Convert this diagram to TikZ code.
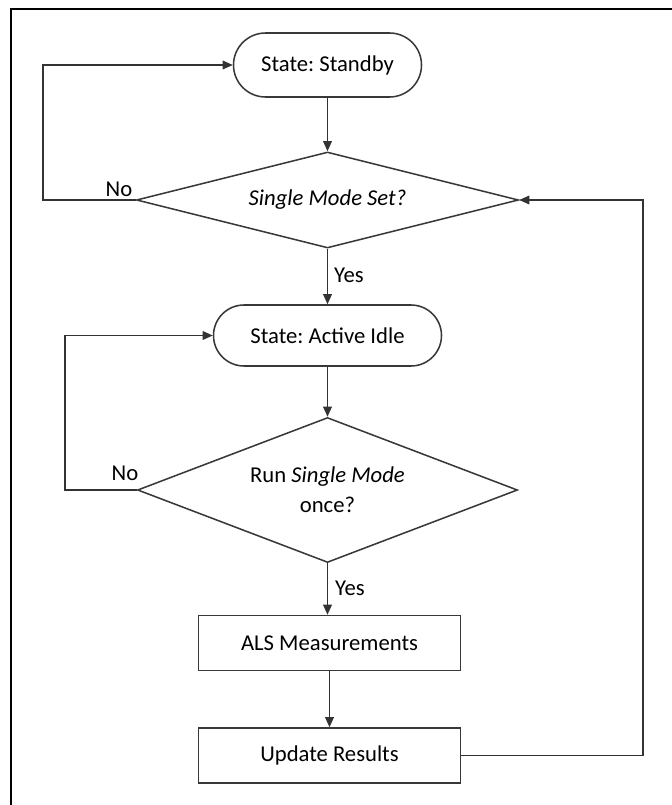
\documentclass[tikz,border=0pt]{standalone}
\usepackage{fontspec}
\setmainfont{Carlito}
\usetikzlibrary{shapes.geometric,shapes.misc,arrows.meta}
\frenchspacing
\begin{document}
\begin{tikzpicture}[x=0.75pt,y=-0.75pt,
  txt/.style={font=\fontsize{17}{22.5}\selectfont},
  shp/.style={txt,draw=black!78,line width=1.15pt,inner sep=0pt,align=center},
  term/.style={shp,rounded rectangle},
  proc/.style={shp,rectangle},
  dec/.style={shp,diamond,aspect=3},
  conn/.style={draw=black!80,line width=0.9pt,-{Triangle[length=7.5pt,width=6.5pt]}},
  lbl/.style={txt,inner sep=0pt}]
\useasboundingbox (0,0) rectangle (671,805);
\draw[line width=1.8pt] (11,806) -- (11,9) -- (672,9);

\node[term,minimum width=141pt,minimum height=48pt] (sb) at (327.5,65) {State: Standby};
\node[dec,minimum width=286.5pt,minimum height=72pt] (d1) at (327.5,200) {\itshape Single Mode Set?};
\node[term,minimum width=171pt,minimum height=45.75pt] (ai) at (327.5,335.5) {State: Active Idle};
\node[dec,minimum width=285pt,minimum height=108.75pt] (d2) at (327.5,490) {Run \textit{Single Mode}\\once?};
\node[proc,minimum width=196.5pt,minimum height=41.25pt] (als) at (329.5,643) {ALS Measurements};
\node[proc,minimum width=196.5pt,minimum height=41.25pt] (ur) at (329.5,755.5) {Update Results};

\coordinate (lx1) at (43,0);
\coordinate (lx2) at (65,0);
\coordinate (rx) at (643,0);

\draw[conn] (sb.south) -- (d1.north);
\draw[conn] (d1.west) -- (d1.west -| lx1) |- (sb.west);
\draw[conn] (d1.south) -- (ai.north);
\draw[conn] (ai.south) -- (d2.north);
\draw[conn] (d2.west) -- (d2.west -| lx2) |- (ai.west);
\draw[conn] (d2.south) -- (d2.south |- als.north);
\draw[conn] (als.south) -- (als.south |- ur.north);
\draw[conn] (ur.east) -- (ur.east -| rx) |- (d1.east);

\node[lbl] (no1) at (119,189) {No};
\node[lbl] (yes1) at (349,275) {Yes};
\node[lbl] (no2) at (125,473) {No};
\node[lbl] (yes2) at (350,588) {Yes};
\end{tikzpicture}
\end{document}
